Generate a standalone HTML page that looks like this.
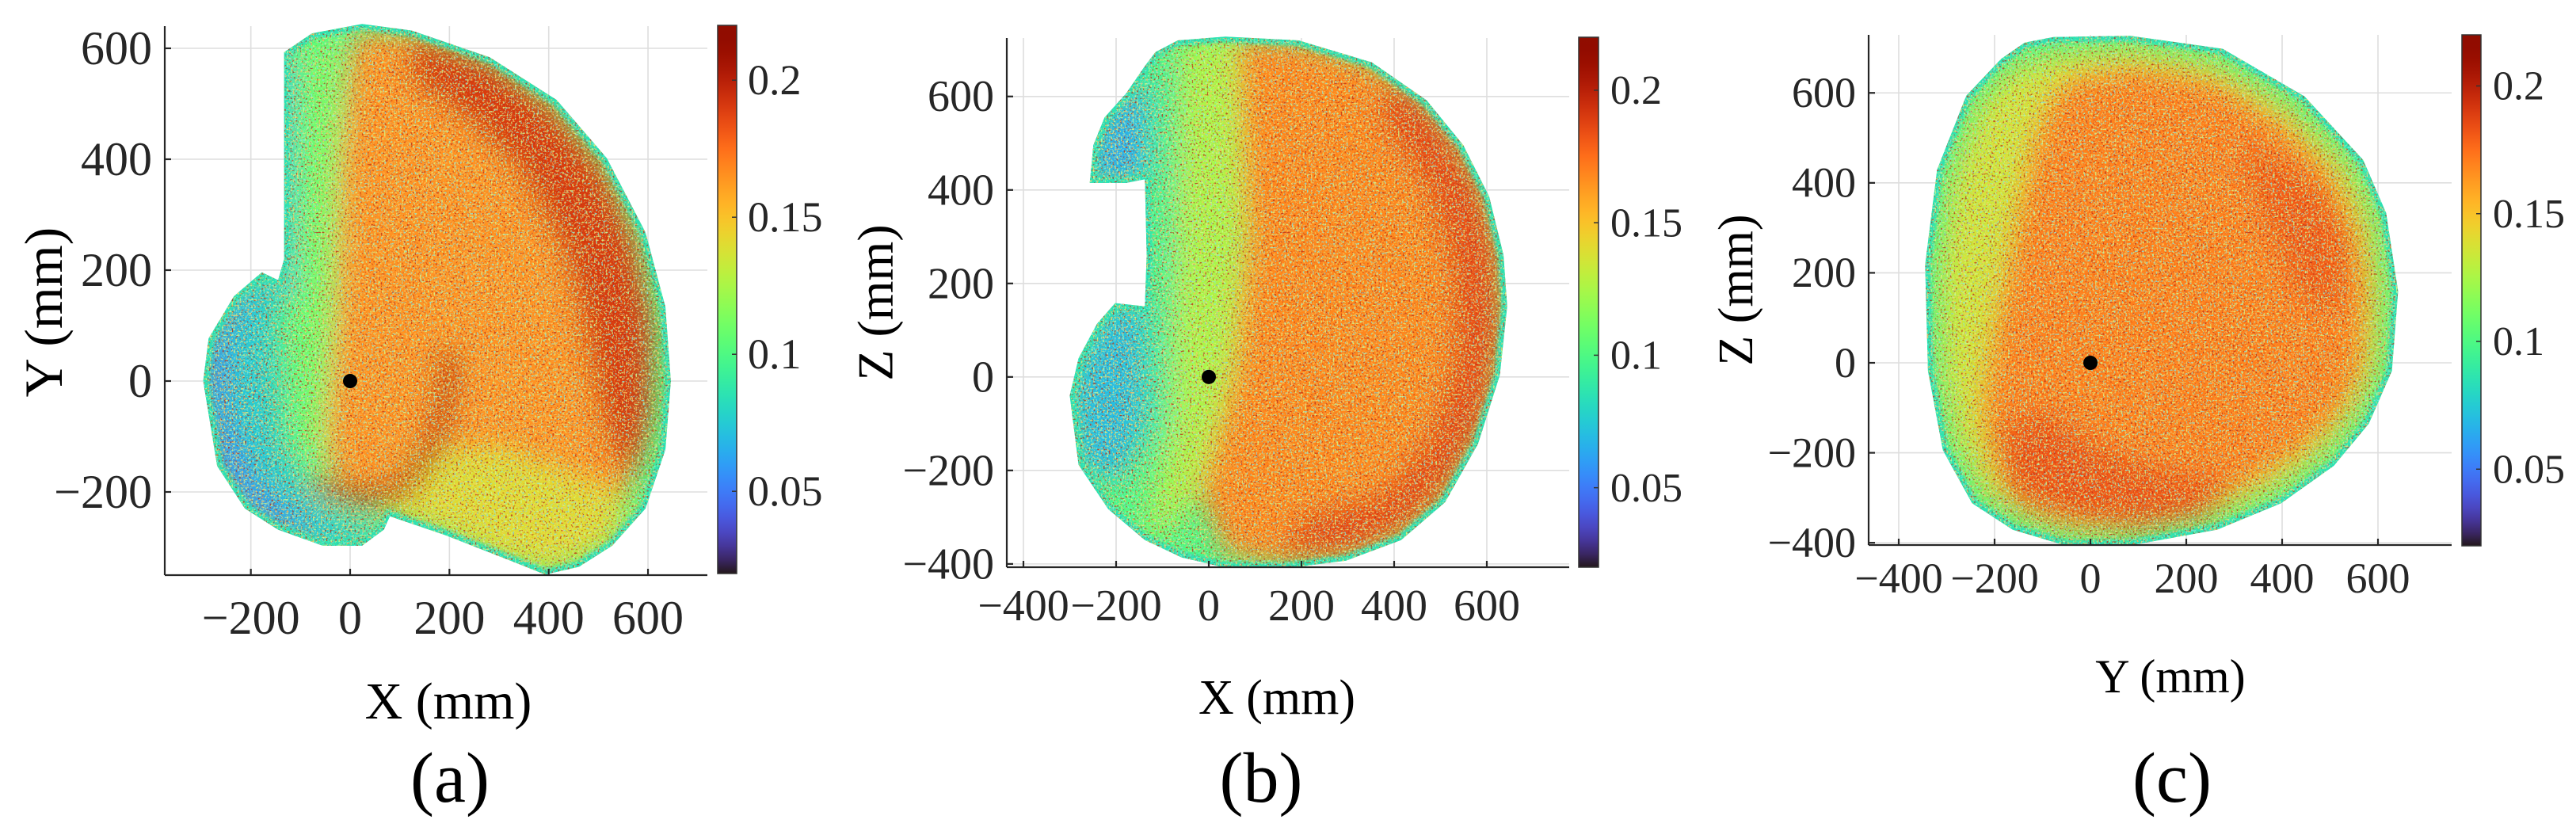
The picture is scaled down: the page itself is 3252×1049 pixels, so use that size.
<!DOCTYPE html>
<html><head><meta charset="utf-8"><style>
html,body{margin:0;padding:0;background:#fff;}
svg{display:block;}
svg text{font-family:"Liberation Serif","Times New Roman",serif;}
</style></head><body>
<svg id="fig" width="3252" height="1049" viewBox="0 0 3252 1049" xmlns="http://www.w3.org/2000/svg" font-family="Liberation Serif, serif">
<defs>
<filter id="soft" x="-10%" y="-10%" width="120%" height="120%"><feGaussianBlur stdDeviation="16"/></filter>
<filter id="rimblur" x="-5%" y="-5%" width="110%" height="110%"><feGaussianBlur stdDeviation="2"/></filter>
<filter id="speckDark" x="0" y="0" width="1" height="1"><feTurbulence type="fractalNoise" baseFrequency="0.42" numOctaves="1" seed="3"/><feColorMatrix type="matrix" values="0 0 0 0 0.50  0 0 0 0 0.03  0 0 0 0 0.01  9 0 0 0 -5.3"/></filter>
<filter id="speckCyan" x="0" y="0" width="1" height="1"><feTurbulence type="fractalNoise" baseFrequency="0.42" numOctaves="1" seed="11"/><feColorMatrix type="matrix" values="0 0 0 0 0.25  0 0 0 0 0.80  0 0 0 0 0.75  0 9 0 0 -5.3"/></filter>
<filter id="speckOrange" x="0" y="0" width="1" height="1"><feTurbulence type="fractalNoise" baseFrequency="0.4" numOctaves="1" seed="23"/><feColorMatrix type="matrix" values="0 0 0 0 0.98  0 0 0 0 0.55  0 0 0 0 0.12  0 0 9 0 -5.3"/></filter>
<filter id="speckGreen" x="0" y="0" width="1" height="1"><feTurbulence type="fractalNoise" baseFrequency="0.4" numOctaves="1" seed="41"/><feColorMatrix type="matrix" values="0 0 0 0 0.65  0 0 0 0 0.95  0 0 0 0 0.25  9 0 0 0 -5.4"/></filter>
<linearGradient id="cbgrad" x1="0" y1="1" x2="0" y2="0"></linearGradient>
</defs>
</svg>
<script>
// ---------- data ----------
const cLim = [0.02, 0.22];
const cbTicks = [0.05, 0.1, 0.15, 0.2];
const cbTickLabels = ["0.05", "0.1", "0.15", "0.2"];

const aXTicks = [-200, 0, 200, 400, 600];
const aYTicks = [-200, 0, 200, 400, 600];
const bXTicks = [-400, -200, 0, 200, 400, 600];
const bYTicks = [-400, -200, 0, 200, 400, 600];
const cXTicks = [-400, -200, 0, 200, 400, 600];
const cYTicks = [-400, -200, 0, 200, 400, 600];

const aOutline = [[-133,593],[-77,627],[24,644],[124,632],[281,584],[416,507],[517,402],[595,268],[635,134],[646,0],[635,-124],[595,-230],[528,-297],[461,-335],[393,-349],[326,-325],[192,-278],[80,-244],[68,-268],[24,-297],[-55,-297],[-145,-268],[-212,-230],[-268,-153],[-296,0],[-285,77],[-234,153],[-178,196],[-145,182],[-133,220]];
const aZoneValues = [0.075, 0.065, 0.11, 0.165, 0.19, 0.14, 0.05];
const aZones = [
 [[-296,0],[-285,77],[-234,153],[-178,196],[-150,180],[-150,50],[-140,-100],[-90,-200],[-20,-250],[68,-268],[24,-297],[-55,-297],[-145,-268],[-212,-230],[-268,-153]],
 [[-140,590],[-115,590],[-115,150],[-140,150]],
 [[-110,600],[-20,620],[-10,0],[-60,-180],[-110,-100]],
 [[20,630],[150,625],[300,570],[420,490],[520,380],[580,250],[610,100],[600,-100],[560,-200],[400,-200],[200,-120],[80,-200],[-30,-190],[-50,-100],[-30,100],[-20,400],[0,600]],
 [[120,620],[280,575],[410,490],[510,380],[575,250],[610,100],[605,-60],[570,-180],[520,-120],[480,50],[430,230],[340,380],[220,480],[120,540]],
 [[120,-130],[300,-120],[480,-180],[570,-220],[520,-300],[400,-345],[300,-320],[150,-260],[60,-240]],
 [[-296,0],[-268,-153],[-212,-230],[-145,-268],[-55,-297],[-100,-260],[-200,-180],[-250,-60],[-250,80],[-200,170],[-234,153],[-285,77]]
];
const aRidge = [[-60,-190],[40,-215],[110,-190],[160,-130],[190,-50],[200,40]];
const aRidgeValue = 0.2;

const bOutline = [[-67,720],[36,728],[194,720],[352,673],[470,592],[549,496],[605,386],[636,261],[644,151],[628,4],[581,-143],[510,-268],[415,-349],[296,-393],[178,-408],[36,-408],[-59,-386],[-138,-349],[-217,-283],[-281,-188],[-300,-40],[-281,40],[-241,114],[-202,158],[-138,151],[-134,261],[-138,423],[-178,415],[-257,415],[-249,496],[-225,555],[-178,607],[-138,665],[-115,695]];
const bZoneValues = [0.065, 0.07, 0.095, 0.125, 0.168, 0.185];
const bZones = [
 [[-257,415],[-249,496],[-225,555],[-178,607],[-138,640],[-120,560],[-134,430],[-178,415]],
 [[-300,-40],[-281,40],[-241,114],[-202,158],[-138,151],[-120,0],[-150,-150],[-200,-230],[-281,-188]],
 [[-138,665],[-80,700],[-60,300],[-70,-100],[-130,-200],[-140,150],[-134,400]],
 [[-60,720],[60,728],[80,400],[60,0],[0,-200],[-60,-300],[-138,-349],[-80,-100],[-70,300]],
 [[60,725],[200,718],[352,673],[470,592],[549,496],[605,386],[636,261],[640,100],[620,-50],[580,-143],[510,-268],[415,-349],[296,-393],[150,-400],[40,-380],[-20,-250],[50,0],[80,300]],
 [[400,640],[500,550],[580,420],[625,260],[630,100],[600,-80],[540,-200],[450,-300],[330,-370],[150,-380],[200,-300],[380,-250],[480,-120],[530,50],[520,250],[460,420],[360,560]]
];

const cOutline = [[-77,724],[82,727],[276,698],[447,592],[569,451],[617,333],[642,159],[629,-18],[581,-135],[508,-229],[398,-312],[264,-371],[82,-406],[-52,-406],[-162,-371],[-247,-312],[-308,-194],[-339,-18],[-345,218],[-320,429],[-259,594],[-186,676],[-137,712]];
const cZoneValues = [0.135, 0.17, 0.182, 0.18];
const cZones = [
 [[-60,690],[90,700],[260,670],[420,570],[540,440],[590,330],[610,160],[600,-20],[550,-120],[480,-210],[380,-285],[250,-345],[80,-380],[-50,-380],[-150,-345],[-225,-290],[-280,-180],[-310,-20],[-315,210],[-290,410],[-235,570],[-170,650]],
 [[-30,640],[100,660],[260,630],[400,540],[510,420],[560,300],[580,160],[570,-20],[520,-120],[440,-200],[340,-270],[220,-330],[80,-360],[-50,-360],[-150,-320],[-200,-250],[-230,-100],[-200,100],[-160,300],[-120,500],[-80,600]],
 [[-200,-150],[-100,-100],[50,-200],[200,-250],[300,-250],[250,-340],[100,-370],[-50,-360],[-170,-310]],
 [[300,500],[450,420],[540,300],[520,100],[430,150],[350,350]]
];
const rimValue = 0.1;
const edgeValue = 0.085;
const originPoint = [0, 0];

// ---------- helpers ----------
const NS = "http://www.w3.org/2000/svg";
const svg = document.getElementById("fig");
const FONT = '"Liberation Serif", "Times New Roman", serif';
function el(tag, attrs, parent) {
  const e = document.createElementNS(NS, tag);
  for (const k in attrs) e.setAttribute(k, attrs[k]);
  if (tag === "text") e.setAttribute("style", "font-family:" + FONT);
  (parent || svg).appendChild(e);
  return e;
}
function turbo(v) {
  let x = (v - cLim[0]) / (cLim[1] - cLim[0]);
  x = Math.max(0, Math.min(1, x));
  const r = 0.13572138 + x*(4.61539260 + x*(-42.66032258 + x*(132.13108234 + x*(-152.94239396 + x*59.28637943))));
  const g = 0.09140261 + x*(2.19418839 + x*(4.84296658 + x*(-14.18503333 + x*(4.27729857 + x*2.82956604))));
  const b = 0.10667330 + x*(12.64194608 + x*(-60.58204836 + x*(110.36276771 + x*(-89.90310912 + x*27.34824973))));
  const c = t => Math.round(255 * Math.max(0, Math.min(1, t)));
  return `rgb(${c(r)},${c(g)},${c(b)})`;
}
const grad = document.getElementById("cbgrad");
for (let i = 0; i <= 40; i++) {
  const v = cLim[0] + (cLim[1] - cLim[0]) * i / 40;
  el("stop", {offset: (i / 40).toFixed(3), "stop-color": turbo(v)}, grad);
}

function panel(cfg) {
  const {id, box, xlim, ylim, xt, yt, outline, zones, zoneValues, ridge, ridgeValue, cb, xlab, ylab, letter} = cfg;
  const sx = v => box.l + (v - xlim[0]) / (xlim[1] - xlim[0]) * (box.r - box.l);
  const sy = v => box.b - (v - ylim[0]) / (ylim[1] - ylim[0]) * (box.b - box.t);
  const pts = arr => arr.map(p => sx(p[0]).toFixed(1) + "," + sy(p[1]).toFixed(1)).join(" ");
  const g = el("g", {});
  
  
  const grid = el("g", {stroke: "#dedede", "stroke-width": 1.6}, g);
  
  
  xt.forEach(v => el("line", {x1: sx(v), x2: sx(v), y1: box.t, y2: box.b}, grid));
  yt.forEach(v => el("line", {x1: box.l, x2: box.r, y1: sy(v), y2: sy(v)}, grid));
  const defs = svg.querySelector("defs");
  const cp = el("clipPath", {id: "clip-" + id}, defs);
  el("polygon", {points: pts(outline)}, cp);
  const cloud = el("g", {"clip-path": `url(#clip-${id})`}, g);
  
  
  const base = el("polygon", {points: pts(outline), fill: turbo(rimValue)}, cloud);
  
  
  const zg = el("g", {filter: "url(#soft)"}, cloud);
  zones.forEach((z, i) => {
    const p = el("polygon", {points: pts(z), fill: turbo(zoneValues[i])}, zg);
    
    
  });
  if (ridge) {
    const rl = el("polyline", {points: pts(ridge), fill: "none", stroke: turbo(ridgeValue), "stroke-width": 26, "stroke-linecap": "round", "stroke-linejoin": "round", opacity: 0.8}, zg);
    
    
  }
  const rim = el("polygon", {points: pts(outline), fill: "none", stroke: turbo(edgeValue), "stroke-width": 14, filter: "url(#rimblur)"}, cloud);
  
  
  ["speckDark", "speckCyan", "speckOrange", "speckGreen"].forEach(f => {
    const r = el("rect", {x: box.l, y: box.t, width: box.r - box.l, height: box.b - box.t, filter: `url(#${f})`, opacity: 0.8}, cloud);
    
    
  });
  const dot = el("circle", {cx: sx(originPoint[0]), cy: sy(originPoint[1]), r: 9, fill: "#000"}, g);
  
  
  const ax = el("g", {stroke: "#262626", "stroke-width": 2.2, fill: "none"}, g);
  
  
  el("line", {x1: box.l, x2: box.l, y1: box.t, y2: box.b}, ax);
  el("line", {x1: box.l, x2: box.r, y1: box.b, y2: box.b}, ax);
  xt.forEach(v => el("line", {x1: sx(v), x2: sx(v), y1: box.b, y2: box.b - 8}, ax));
  yt.forEach(v => el("line", {x1: box.l, x2: box.l + 8, y1: sy(v), y2: sy(v)}, ax));
  xt.forEach(v => {
    const t = el("text", {x: sx(v), y: cfg.xtBase, "text-anchor": "middle", "font-size": cfg.tfs, fill: "#262626"}, g);
    t.textContent = v < 0 ? "\u2212" + Math.abs(v) : String(v);
    
    
  });
  yt.forEach(v => {
    const t = el("text", {x: cfg.ytRight, y: sy(v) + cfg.tfs * 0.33, "text-anchor": "end", "font-size": cfg.tfs, fill: "#262626"}, g);
    t.textContent = v < 0 ? "\u2212" + Math.abs(v) : String(v);
    
    
  });
  const xl = el("text", {x: xlab.x, y: xlab.y, "text-anchor": "middle", "font-size": xlab.fs, fill: "#000"}, g);
  xl.textContent = xlab.text;
  
  
  const yl = el("text", {x: 0, y: 0, transform: `translate(${ylab.x},${ylab.y}) rotate(-90)`, "text-anchor": "middle", "dominant-baseline": "central", "font-size": ylab.fs, fill: "#000"}, g);
  yl.textContent = ylab.text;
  
  
  const lt = el("text", {x: letter.x, y: letter.y, "text-anchor": "middle", "font-size": letter.fs, fill: "#000"}, g);
  lt.textContent = letter.text;
  
  
  const cg = el("g", {}, g);
  
  
  el("rect", {x: cb.l, y: cb.t, width: cb.w, height: cb.b - cb.t, fill: "url(#cbgrad)", stroke: "#333", "stroke-width": 1.5}, cg);
  const cy = v => cb.b - (v - cLim[0]) / (cLim[1] - cLim[0]) * (cb.b - cb.t);
  cbTicks.forEach((v, i) => {
    el("line", {x1: cb.l + cb.w - 6, x2: cb.l + cb.w, y1: cy(v), y2: cy(v), stroke: "#333", "stroke-width": 1.5}, cg);
    const t = el("text", {x: cb.lx, y: cy(v) + cfg.cfs * 0.33, "font-size": cfg.cfs, fill: "#262626"}, cg);
    t.textContent = cbTickLabels[i];
    
    
  });
}

panel({id: "a", box: {l: 208, r: 893, t: 33, b: 726}, xlim: [-373.4, 719.6], ylim: [-350, 640],
  xt: aXTicks, yt: aYTicks, outline: aOutline, zones: aZones, zoneValues: aZoneValues, ridge: aRidge, ridgeValue: aRidgeValue,
  xtBase: 800, ytRight: 192, tfs: 60, cfs: 54,
  cb: {l: 906, w: 24, t: 32, b: 724, lx: 944},
  xlab: {text: "X (mm)", x: 566, y: 907, fs: 66}, ylab: {text: "Y (mm)", x: 55, y: 394, fs: 68},
  letter: {text: "(a)", x: 568, y: 1012, fs: 90}});
panel({id: "b", box: {l: 1271, r: 1981, t: 48, b: 716}, xlim: [-435.9, 777.8], ylim: [-407, 725],
  xt: bXTicks, yt: bYTicks, outline: bOutline, zones: bZones, zoneValues: bZoneValues,
  xtBase: 783, ytRight: 1255, tfs: 56, cfs: 52,
  cb: {l: 1993, w: 25, t: 47, b: 716, lx: 2033},
  xlab: {text: "X (mm)", x: 1612, y: 901, fs: 62}, ylab: {text: "Z (mm)", x: 1105, y: 382, fs: 64},
  letter: {text: "(b)", x: 1592, y: 1012, fs: 90}});
panel({id: "c", box: {l: 2359, r: 3095, t: 44, b: 688}, xlim: [-462.8, 753.7], ylim: [-405, 729],
  xt: cXTicks, yt: cYTicks, outline: cOutline, zones: cZones, zoneValues: cZoneValues,
  xtBase: 748, ytRight: 2343, tfs: 54, cfs: 52,
  cb: {l: 3108, w: 24, t: 44, b: 689, lx: 3147},
  xlab: {text: "Y (mm)", x: 2740, y: 874, fs: 60}, ylab: {text: "Z (mm)", x: 2192, y: 366, fs: 62},
  letter: {text: "(c)", x: 2742, y: 1012, fs: 90}});
</script>
</body></html>
